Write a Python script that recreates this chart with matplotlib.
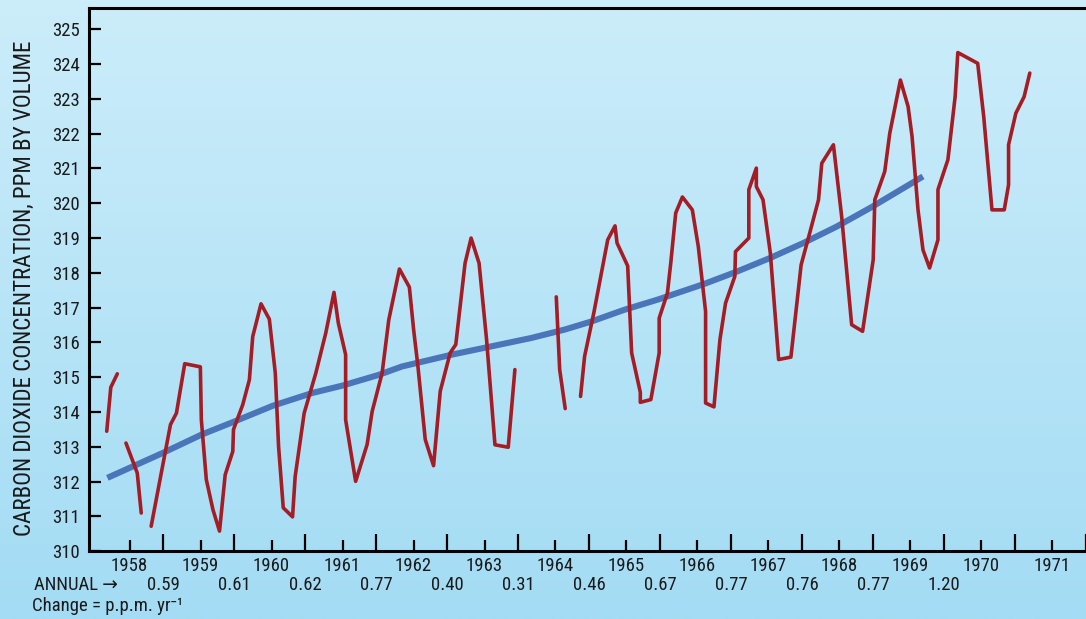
import numpy as np
import matplotlib
matplotlib.use('Agg')
from matplotlib import pyplot as plt
from matplotlib import transforms

plt.rcParams['font.family'] = ['Roboto Condensed', 'Roboto', 'DejaVu Sans']

# monthly-ish readings, NaN marks a gap in the record
red_years = [1957.677, 1957.734, 1957.826, np.nan,
             1957.948, 1958.107, 1958.163, np.nan,
             1958.303, 1958.575, 1958.659, 1958.776, 1958.996, 1959.010, 1959.080, 1959.173,
             1959.266, 1959.346, 1959.453, 1959.463, 1959.593, 1959.687, 1959.734, 1959.851,
             1959.968, 1960.052, 1960.098, 1960.164, 1960.295, 1960.332, 1960.459, 1960.623,
             1960.763, 1960.879, 1960.940, 1961.043, 1961.043, 1961.184, 1961.346, 1961.417,
             1961.557, 1961.651, 1961.801, 1961.941, 1962.001, 1962.062, 1962.165, 1962.282,
             1962.376, 1962.516, 1962.595, 1962.726, 1962.811, 1962.923, 1962.983, 1963.029,
             1963.147, 1963.334, 1963.428, np.nan,
             1964.011, 1964.059, 1964.137, np.nan,
             1964.353, 1964.410, 1964.540, 1964.736, 1964.839, 1964.867, 1965.017, 1965.073,
             1965.195, 1965.195, 1965.344, 1965.461, 1965.461, 1965.577, 1965.624, 1965.694,
             1965.788, 1965.928, 1966.012, 1966.115, 1966.115, 1966.233, 1966.317, 1966.396,
             1966.527, 1966.536, 1966.724, 1966.724, 1966.830, 1966.830, 1966.924, 1967.027,
             1967.144, 1967.317, 1967.461, 1967.588, 1967.706, 1967.752, 1967.916, 1968.032,
             1968.173, 1968.327, 1968.477, 1968.499, 1968.639, 1968.710, 1968.860, 1968.968,
             1969.024, 1969.108, 1969.178, 1969.271, 1969.389, 1969.389, 1969.529, 1969.631,
             1969.669, 1969.949, 1970.034, 1970.150, 1970.323, 1970.384, 1970.384, 1970.487,
             1970.603, 1970.683]
red_ppm = [313.45, 314.71, 315.10, np.nan,
           313.11, 312.25, 311.10, np.nan,
           310.72, 313.64, 313.97, 315.39, 315.30, 313.78, 312.06, 311.20,
           310.58, 312.20, 312.87, 313.50, 314.21, 314.93, 316.17, 317.11,
           316.67, 315.12, 313.02, 311.25, 310.99, 312.15, 313.97, 315.12,
           316.27, 317.44, 316.56, 315.65, 313.78, 312.01, 313.07, 314.02,
           315.12, 316.65, 318.11, 317.59, 316.37, 315.31, 313.21, 312.46,
           314.60, 315.70, 315.94, 318.28, 319.00, 318.28, 317.04, 316.08,
           313.06, 312.99, 315.22, np.nan,
           317.31, 315.22, 314.10, np.nan,
           314.45, 315.60, 316.85, 318.95, 319.35, 318.86, 318.20, 315.70,
           314.57, 314.28, 314.36, 315.70, 316.70, 317.42, 318.28, 319.72,
           320.18, 319.81, 318.76, 316.89, 314.26, 314.15, 316.08, 317.13,
           317.90, 318.61, 319.00, 320.39, 321.01, 320.48, 320.10, 318.57,
           315.51, 315.58, 318.23, 319.19, 320.10, 321.15, 321.68, 319.62,
           316.51, 316.32, 318.38, 320.10, 320.91, 322.01, 323.54, 322.78,
           321.92, 319.81, 318.66, 318.14, 318.95, 320.39, 321.25, 323.06,
           324.33, 324.02, 322.49, 319.81, 319.81, 320.53, 321.68, 322.59,
           323.06, 323.74]

# smoothed trend
trend_years = [1957.686, 1958.471, 1959.010, 1959.477, 1960.014, 1960.575, 1960.996, 1961.511,
               1961.837, 1962.539, 1963.100, 1963.661, 1964.129, 1964.502, 1964.971, 1965.438,
               1966.093, 1966.560, 1967.027, 1967.495, 1967.962, 1968.429, 1969.178]
trend_ppm = [312.11, 312.83, 313.35, 313.73, 314.18, 314.55, 314.76, 315.07,
             315.31, 315.65, 315.89, 316.13, 316.37, 316.60, 316.94, 317.23,
             317.68, 318.04, 318.43, 318.86, 319.33, 319.86, 320.77]

years = list(range(1958, 1972))
annual_change = ['0.59', '0.61', '0.62', '0.77', '0.40', '0.31', '0.46',
                 '0.67', '0.77', '0.76', '0.77', '1.20']
y_ticks = list(range(310, 326))

ink = '#1a1a1a'
fig = plt.figure(figsize=(10.86, 6.19), dpi=100)

# background gradient
bg = fig.add_axes([0, 0, 1, 1], zorder=-10)
grad = np.linspace(0, 1, 256).reshape(-1, 1)
top = np.array([204, 237, 250]) / 255
bottom = np.array([163, 220, 244]) / 255
img = top + (bottom - top) * grad[:, :, None]
bg.imshow(img, aspect='auto', extent=[0, 1, 0, 1])
bg.axis('off')

ax = fig.add_axes([88.5 / 1086, 1 - 551.3 / 619, 1 - 88.5 / 1086, (551.3 - 8) / 619])
ax.set_facecolor('none')

ax.plot(trend_years, trend_ppm, color='#4a75b9', lw=4.4, solid_capstyle='butt', zorder=2)
ax.plot(red_years, red_ppm, color='#a61c25', lw=2.6, solid_joinstyle='round',
        solid_capstyle='round', zorder=3)

ax.set_xlim(1957.42, 1971.41)
ax.set_ylim(310, 325.61)

ax.spines['right'].set_visible(False)
for s in ['left', 'top', 'bottom']:
    ax.spines[s].set_linewidth(2.2)
    ax.spines[s].set_color('black')

ax.set_yticks(y_ticks)
ax.set_yticklabels([str(v) for v in y_ticks])
ax.set_xticks(years)
ax.set_xticklabels([str(y) for y in years])
ax.set_xticks([y + 0.475 for y in years], minor=True)

ax.tick_params(axis='y', direction='in', length=8.6, width=1.6, pad=6,
               labelsize=13.5, labelcolor=ink)
ax.tick_params(axis='x', which='major', direction='in', length=8, width=1.6, pad=4,
               labelsize=13.5, labelcolor=ink)
ax.tick_params(axis='x', which='minor', direction='in', length=12.3, width=1.6)

fig.text(24.5 / 1086, 1 - 288 / 619, 'CARBON DIOXIDE CONCENTRATION, PPM BY VOLUME',
         rotation=90, ha='center', va='center', fontsize=16.6, color=ink)

row = transforms.blended_transform_factory(ax.transData, fig.transFigure)
for y, v in zip(years, annual_change):
    ax.text(y + 0.475, 1 - 585 / 619, v, transform=row, ha='center', va='center',
            fontsize=13.5, color=ink)
fig.text(34 / 1086, 1 - 585 / 619, 'ANNUAL \u2192', ha='left', va='center',
         fontsize=13.5, color=ink)
fig.text(32 / 1086, 1 - 606 / 619, 'Change = p.p.m. yr\u207b\u00b9', ha='left', va='center',
         fontsize=13.5, color=ink)

plt.savefig('out.png', dpi=100)
